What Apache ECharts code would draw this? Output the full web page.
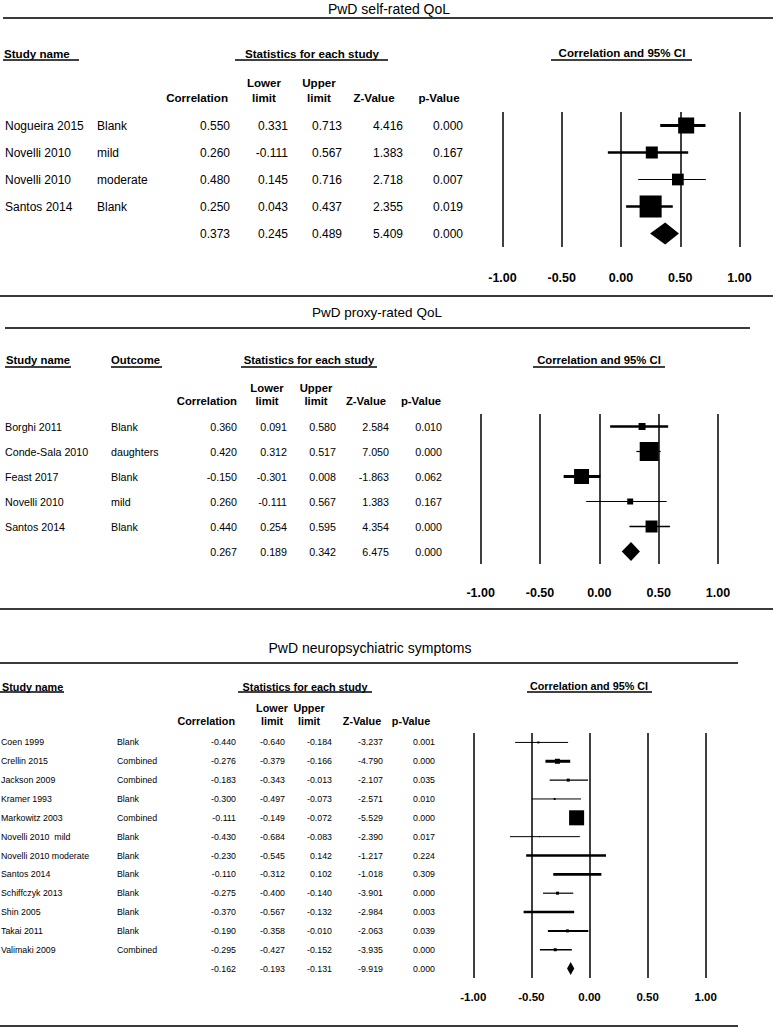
<!DOCTYPE html>
<html><head><meta charset="utf-8">
<script src="https://cdn.jsdelivr.net/npm/echarts@6/dist/echarts.min.js"></script>
<style>html,body{margin:0;padding:0;background:#fff}#c{width:773px;height:1028px}</style>
</head><body><div id="c"></div>
<script>
// ---------------- DATA ----------------
// Panel 1: PwD self-rated QoL
const p1Title = 'PwD self-rated QoL';
const p1Studies = ['Nogueira 2015', 'Novelli 2010', 'Novelli 2010', 'Santos 2014', ''];
const p1Outcomes = ['Blank', 'mild', 'moderate', 'Blank', ''];
const p1Corr = [0.550, 0.260, 0.480, 0.250, 0.373];
const p1Lower = [0.331, -0.111, 0.145, 0.043, 0.245];
const p1Upper = [0.713, 0.567, 0.716, 0.437, 0.489];
const p1Z = [4.416, 1.383, 2.718, 2.355, 5.409];
const p1P = [0.000, 0.167, 0.007, 0.019, 0.000];
const p1Weight = [25.1, 14.1, 13.4, 47.4]; // relative weights

// Panel 2: PwD proxy-rated QoL
const p2Title = 'PwD proxy-rated QoL';
const p2Studies = ['Borghi 2011', 'Conde-Sala 2010', 'Feast 2017', 'Novelli 2010', 'Santos 2014', ''];
const p2Outcomes = ['Blank', 'daughters', 'Blank', 'mild', 'Blank', ''];
const p2Corr = [0.360, 0.420, -0.150, 0.260, 0.440, 0.267];
const p2Lower = [0.091, 0.312, -0.301, -0.111, 0.254, 0.189];
const p2Upper = [0.580, 0.517, 0.008, 0.567, 0.595, 0.342];
const p2Z = [2.584, 7.050, -1.863, 1.383, 4.354, 6.475];
const p2P = [0.010, 0.000, 0.062, 0.167, 0.000, 0.000];
const p2Weight = [6.0, 44.3, 27.6, 4.4, 17.7];

// Panel 3: PwD neuropsychiatric symptoms
const p3Title = 'PwD neuropsychiatric symptoms';
const p3Studies = ['Coen 1999', 'Crellin 2015', 'Jackson 2009', 'Kramer 1993', 'Markowitz 2003',
  'Novelli 2010  mild', 'Novelli 2010 moderate', 'Santos 2014', 'Schiffczyk 2013', 'Shin 2005',
  'Takai 2011', 'Valimaki 2009', ''];
const p3Outcomes = ['Blank', 'Combined', 'Combined', 'Blank', 'Combined', 'Blank', 'Blank', 'Blank',
  'Blank', 'Blank', 'Blank', 'Combined', ''];
const p3Corr = [-0.440, -0.276, -0.183, -0.300, -0.111, -0.430, -0.230, -0.110, -0.275, -0.370, -0.190, -0.295, -0.162];
const p3Lower = [-0.640, -0.379, -0.343, -0.497, -0.149, -0.684, -0.545, -0.312, -0.400, -0.567, -0.358, -0.427, -0.193];
const p3Upper = [-0.184, -0.166, -0.013, -0.073, -0.072, -0.083, 0.142, 0.102, -0.140, -0.132, -0.010, -0.152, -0.131];
const p3Z = [-3.237, -4.790, -2.107, -2.571, -5.529, -2.390, -1.217, -1.018, -3.901, -2.984, -2.063, -3.935, -9.919];
const p3P = [0.001, 0.000, 0.035, 0.010, 0.000, 0.017, 0.224, 0.309, 0.000, 0.003, 0.039, 0.000, 0.000];
const p3Weight = [1.3, 8.4, 3.0, 1.3, 75.5, 0.3, 0.3, 0.3, 3.0, 0.3, 3.0, 3.0];

const axisMin = -1, axisMax = 1, axisStep = 0.5;
const tickLabels = ['-1.00', '-0.50', '0.00', '0.50', '1.00'];

const statHeaders = ['Correlation', 'Lower\nlimit', 'Upper\nlimit', 'Z-Value', 'p-Value'];

// ---------------- RENDERING ----------------
const FONT = '"Liberation Sans", Arial, Helvetica, sans-serif';
const panels = [
  {
    title: p1Title, studies: p1Studies, outcomes: p1Outcomes, corr: p1Corr, lower: p1Lower, upper: p1Upper, z: p1Z, p: p1P, weight: p1Weight,
    grid: {left: 502.5, width: 237, top: 112, height: 135}, tickMargin: 24, tickFont: 12.5,
    rowFont: 12, cols: [5, 97, 230, 288, 342, 403, 463], boxScale: 3.2, diamondH: 22,
    ciWidth: [3, 2.5, 1.2, 2.5]
  },
  {
    title: p2Title, studies: p2Studies, outcomes: p2Outcomes, corr: p2Corr, lower: p2Lower, upper: p2Upper, z: p2Z, p: p2P, weight: p2Weight,
    grid: {left: 480.7, width: 237.3, top: 414, height: 150}, tickMargin: 22, tickFont: 12.5,
    rowFont: 10.7, cols: [5, 111, 237, 287, 336, 389, 442], boxScale: 2.85, diamondH: 19,
    ciWidth: [2.5, 1.2, 2.8, 1, 1.5]
  },
  {
    title: p3Title, studies: p3Studies, outcomes: p3Outcomes, corr: p3Corr, lower: p3Lower, upper: p3Upper, z: p3Z, p: p3P, weight: p3Weight,
    grid: {left: 473.3, width: 232.4, top: 733, height: 245}, tickMargin: 13, tickFont: 11.5,
    rowFont: 8.8, cols: [1, 117, 236, 285, 332, 383, 435], boxScale: 1.73, diamondH: 13,
    ciWidth: [1, 3, 1.3, 1, 1, 1, 2.6, 2.6, 1.2, 2.6, 2, 1.3]
  }
];

function fmt(v) { return v.toFixed(3); }

function forestRender(pn) {
  return function (params, api) {
    const i = api.value(1);
    const c = api.coord([api.value(0), i]);
    const lo = api.coord([api.value(2), i]);
    const hi = api.coord([api.value(3), i]);
    if (api.value(5) === 1) {
      const h = pn.diamondH / 2;
      return {type: 'polygon', shape: {points: [[lo[0], c[1]], [c[0], c[1] - h], [hi[0], c[1]], [c[0], c[1] + h]]}, style: {fill: '#000'}};
    }
    const s = Math.sqrt(api.value(4)) * pn.boxScale;
    return {type: 'group', children: [
      {type: 'line', shape: {x1: lo[0], y1: c[1], x2: hi[0], y2: c[1]}, style: {stroke: '#000', lineWidth: pn.ciWidth[i]}},
      {type: 'rect', shape: {x: c[0] - s / 2, y: c[1] - s / 2, width: s, height: s}, style: {fill: '#000'}}
    ]};
  };
}

function tableRender(pn) {
  return function (params, api) {
    const i = api.value(1);
    const y = api.coord([0, i])[1];
    const vals = [pn.studies[i], pn.outcomes[i], fmt(pn.corr[i]), fmt(pn.lower[i]), fmt(pn.upper[i]), fmt(pn.z[i]), fmt(pn.p[i])];
    return {type: 'group', children: vals.map((t, k) => ({
      type: 'text',
      style: {x: pn.cols[k], y: y, text: t, align: k < 2 ? 'left' : 'right', verticalAlign: 'middle',
        textAlign: k < 2 ? 'left' : 'right', textVerticalAlign: 'middle',
        font: pn.rowFont + 'px ' + FONT, fill: '#000'}
    }))};
  };
}

const grids = [], xAxes = [], yAxes = [], series = [];
panels.forEach((pn, k) => {
  grids.push(Object.assign({containLabel: false}, pn.grid));
  xAxes.push({
    type: 'value', gridIndex: k, min: axisMin, max: axisMax, interval: axisStep,
    axisLine: {show: false}, axisTick: {show: false},
    splitLine: {show: true, lineStyle: {color: '#000', width: 1.5}},
    axisLabel: {margin: pn.tickMargin, color: '#000', fontWeight: 'bold', fontSize: pn.tickFont, fontFamily: FONT,
      formatter: v => tickLabels[Math.round((v - axisMin) / axisStep)]}
  });
  yAxes.push({type: 'category', gridIndex: k, inverse: true, show: false, data: pn.corr.map((_, i) => i)});
  const data = pn.corr.map((c, i) => [c, i, pn.lower[i], pn.upper[i], i < pn.weight.length ? pn.weight[i] : 0, i < pn.weight.length ? 0 : 1]);
  series.push({type: 'custom', xAxisIndex: k, yAxisIndex: k, data: data, encode: {x: 0, y: 1}, clip: false, renderItem: forestRender(pn), silent: true});
  series.push({type: 'custom', xAxisIndex: k, yAxisIndex: k, data: data, encode: {x: 0, y: 1}, clip: false, renderItem: tableRender(pn), silent: true});
});

// static texts and rules
const G = [];
function txt(text, x, y, size, bold, align) {
  G.push({type: 'text', x: 0, y: 0, silent: true, style: {text: text, x: x, y: y, font: (bold ? 'bold ' : '') + size + 'px ' + FONT,
    fill: '#000', align: align || 'left', verticalAlign: 'middle', textAlign: align || 'left', textVerticalAlign: 'middle'}});
}
function rule(x1, x2, y, w, col) {
  G.push({type: 'line', silent: true, shape: {x1: x1, y1: y, x2: x2, y2: y}, style: {stroke: col || '#3a3a3a', lineWidth: w || 2}});
}
function statHead(cx, y1, y2, size, centers) {
  statHeaders.forEach((h, k) => {
    const parts = h.split('\n');
    if (parts.length === 2) { txt(parts[0], centers[k], y1, size, true, 'center'); txt(parts[1], centers[k], y2, size, true, 'center'); }
    else if (k === 0) txt(h, centers[k], y2, size, true, 'right');
    else txt(h, centers[k], y2, size, true, 'center');
  });
}

// Panel 1
txt(p1Title, 389, 8.5, 14, false, 'center');
rule(3, 773, 18, 2);
txt('Study name', 4, 53, 11.6, true); rule(3, 79, 60, 1.5, '#000');
txt('Statistics for each study', 312, 53, 11.6, true, 'center'); rule(235, 388, 60, 1.5, '#000');
txt('Correlation and 95% CI', 622, 52, 11.6, true, 'center'); rule(551, 692, 60, 1.5, '#000');
statHead(0, 82, 97, 11.6, [228, 264, 319, 374, 439]);
rule(0, 773, 296, 2);

// Panel 2
txt(p2Title, 377, 312, 13.5, false, 'center');
rule(5, 750, 328, 2);
txt('Study name', 6, 360, 11.3, true); rule(5, 71, 367, 1.5, '#000');
txt('Outcome', 111, 360, 11.3, true); rule(111, 162, 367, 1.5, '#000');
txt('Statistics for each study', 309, 360, 11.3, true, 'center'); rule(241, 377, 367, 1.5, '#000');
txt('Correlation and 95% CI', 599, 360, 11.3, true, 'center'); rule(533, 665, 367, 1.5, '#000');
statHead(0, 388, 401, 11.3, [237, 267, 316, 366, 421]);
rule(0, 773, 609, 2);

// Panel 3
txt(p3Title, 370, 648, 14, false, 'center');
rule(0, 738, 663, 2);
txt('Study name', 2, 687, 10.8, true); rule(0, 64, 692, 1.5, '#000');
txt('Statistics for each study', 305, 687, 10.8, true, 'center'); rule(238, 372, 692, 1.5, '#000');
txt('Correlation and 95% CI', 589, 686, 10.8, true, 'center'); rule(527, 652, 692, 1.5, '#000');
statHead(0, 708, 721, 10.8, [235, 272, 309, 362, 411]);
rule(0, 738, 1026, 2);

const chart = echarts.init(document.getElementById('c'), null, {renderer: 'svg', width: 773, height: 1028});
chart.setOption({
  backgroundColor: '#fff',
  animation: false,
  grid: grids, xAxis: xAxes, yAxis: yAxes, series: series,
  graphic: {elements: G}
});
</script>
</body></html>
